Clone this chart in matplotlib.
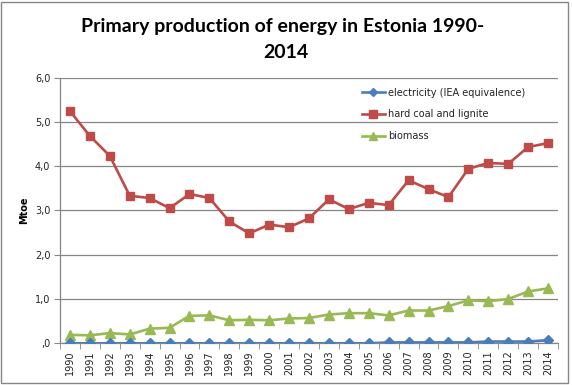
import matplotlib
matplotlib.use("Agg")
import matplotlib.pyplot as plt
from matplotlib.patches import Rectangle
from matplotlib.ticker import FixedLocator

years = [str(y) for y in range(1990, 2015)]
electricity = [0.0, 0.0, 0.0, 0.0, 0.0, 0.0, 0.0, 0.0, 0.0, 0.0, 0.0, 0.0, 0.0,
               0.0, 0.0, 0.0, 0.02, 0.02, 0.02, 0.02, 0.02, 0.04, 0.04, 0.04, 0.07]
coal = [5.24, 4.68, 4.23, 3.33, 3.28, 3.05, 3.37, 3.28, 2.75, 2.48, 2.68, 2.62, 2.82,
        3.25, 3.03, 3.17, 3.12, 3.68, 3.48, 3.30, 3.94, 4.07, 4.05, 4.43, 4.52]
biomass = [0.19, 0.18, 0.23, 0.20, 0.33, 0.35, 0.62, 0.63, 0.52, 0.53, 0.52, 0.56, 0.57,
           0.65, 0.68, 0.68, 0.63, 0.74, 0.74, 0.84, 0.97, 0.95, 1.00, 1.17, 1.24]
series_names = ["electricity (IEA equivalence)", "hard coal and lignite", "biomass"]
ytick_vals = [0, 1, 2, 3, 4, 5, 6]
ytick_labels = [",0", "1,0", "2,0", "3,0", "4,0", "5,0", "6,0"]
title_lines = ["Primary production of energy in Estonia 1990-", "2014"]

W, H = 572, 385
fig = plt.figure(figsize=(W / 100, H / 100), dpi=100)
ax = fig.add_axes([60 / W, 1 - 343.3 / H, 498 / W, (343.3 - 77.5) / H])

x = list(range(len(years)))
ax.plot(x, electricity, color="#4A7EBB", lw=1.9, marker="D", ms=5, label=series_names[0], zorder=5)
ax.plot(x, coal, color="#BE4B48", lw=1.9, marker="s", ms=6, label=series_names[1], zorder=4)
ax.plot(x, biomass, color="#98B954", lw=1.9, marker="^", ms=6.5, label=series_names[2], zorder=3)

ax.set_xlim(-0.5, len(years) - 0.5)
ax.set_ylim(0, 6)
ax.set_yticks(ytick_vals)
ax.set_yticklabels(ytick_labels, fontsize=7, color="#222222")
ax.set_xticks(x)
ax.set_xticklabels(years, rotation=90, fontsize=7, color="#222222")
ax.tick_params(axis="x", length=0, pad=5)
ax.xaxis.set_minor_locator(FixedLocator([i - 0.5 for i in range(len(years) + 1)]))
ax.tick_params(axis="x", which="minor", length=4, color="#868686", direction="out")
ax.tick_params(axis="y", length=4, color="#868686", pad=3)

ax.grid(axis="y", color="#868686", lw=0.9, zorder=0)
ax.set_axisbelow(True)
for s in ["top", "right"]:
    ax.spines[s].set_visible(False)
ax.spines["left"].set_color("#868686")
ax.spines["bottom"].set_color("#868686")
ax.spines["left"].set_linewidth(0.9)
ax.spines["bottom"].set_linewidth(0.9)

ax.set_ylabel("Mtoe", fontsize=7, fontweight="bold", labelpad=4)

leg = ax.legend(loc="upper left", bbox_to_anchor=(0.588, 0.995), frameon=False,
                fontsize=7, handlelength=2.4, handletextpad=0.3, labelspacing=1.2,
                markerscale=0.85)
for t in leg.get_texts():
    t.set_color("#222222")

fig.text(283 / W, 1 - 32 / H, title_lines[0], ha="center", va="baseline", fontsize=14,
         fontweight="bold", family="Lato")
fig.text(286 / W, 1 - 58 / H, title_lines[1], ha="center", va="baseline", fontsize=14,
         fontweight="bold", family="Lato")

fig.patches.append(Rectangle((1 / W, 2 / H), (W - 5) / W, (H - 4) / H, transform=fig.transFigure,
                             fill=False, edgecolor="#868686", lw=1))

fig.savefig("out.png", dpi=100)
